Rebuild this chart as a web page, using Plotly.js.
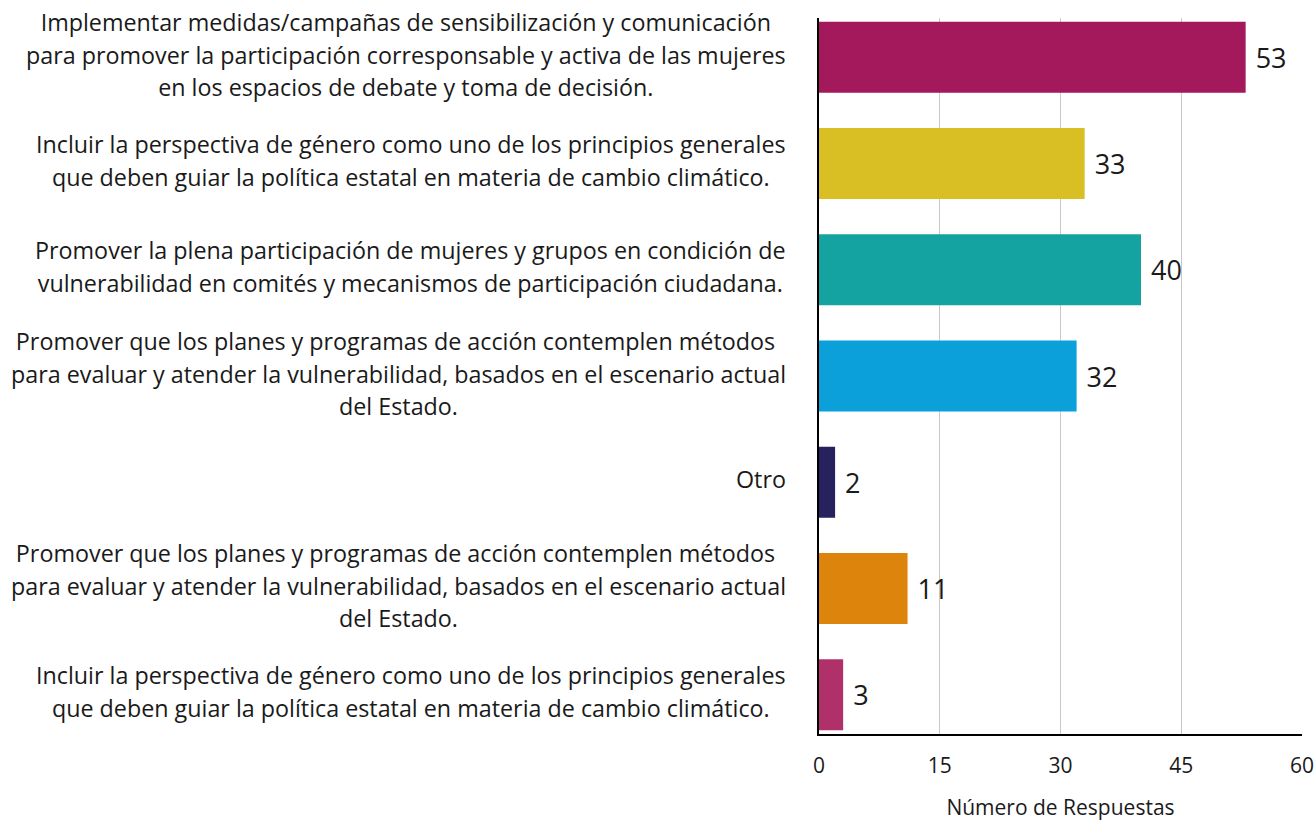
<!DOCTYPE html>
<html>
<head>
<meta charset="utf-8">
<script src="https://cdn.plot.ly/plotly-3.0.1.min.js"></script>
<style>html,body{margin:0;padding:0;background:#fff;}#chart{width:1315px;height:823px;}</style>
</head>
<body>
<div id="chart"></div>
<script>
const categories = [
  "Implementar medidas/campañas de sensibilización y comunicación\npara promover la participación corresponsable y activa de las mujeres\nen los espacios de debate y toma de decisión.",
  "Incluir la perspectiva de género como uno de los principios generales\nque deben guiar la política estatal en materia de cambio climático.",
  "Promover la plena participación de mujeres y grupos en condición de\nvulnerabilidad en comités y mecanismos de participación ciudadana.",
  "Promover que los planes y programas de acción contemplen métodos \npara evaluar y atender la vulnerabilidad, basados en el escenario actual\ndel Estado.",
  "Otro",
  "Promover que los planes y programas de acción contemplen métodos \npara evaluar y atender la vulnerabilidad, basados en el escenario actual\ndel Estado.",
  "Incluir la perspectiva de género como uno de los principios generales\nque deben guiar la política estatal en materia de cambio climático."
];
const values = [53, 33, 40, 32, 2, 11, 3];
const colors = ["#A3195B", "#D9BE24", "#14A3A0", "#0BA0DA", "#27215E", "#DD840C", "#B0306A"];
const xTicks = [0, 15, 30, 45, 60];
const xTitle = "Número de Respuestas";

const FONT = "'Open Sans', 'Noto Sans', sans-serif";
const pos = categories.map((c, i) => i);

const trace = {
  type: "bar",
  orientation: "h",
  y: pos,
  x: values,
  width: 0.668,
  marker: { color: colors, line: { width: 0 } },
  text: values.map(v => "\u00A0" + v),
  textposition: "outside",
  cliponaxis: false,
  textfont: { family: FONT, size: 27, color: "#1a1a1a" },
  hoverinfo: "none"
};

const annotations = categories.map((c, i) => ({
  xref: "paper", yref: "y",
  x: -0.064, y: i,
  xanchor: "right", yanchor: "middle",
  yshift: 3,
  align: "center",
  showarrow: false,
  text: c.split("\n").map(s => '<span style="font-size:23.3px">' + s + '</span>').join("<br>"),
  font: { family: FONT, size: 25, color: "#1a1a1a" }
}));

const layout = {
  width: 1315, height: 823,
  margin: { l: 819, r: 13, t: 18, b: 89 },
  paper_bgcolor: "#fff", plot_bgcolor: "#fff",
  showlegend: false,
  font: { family: FONT, color: "#1a1a1a" },
  xaxis: {
    range: [0, 60],
    tickvals: xTicks,
    ticktext: xTicks.map(String),
    showgrid: true, gridcolor: "#c8c8c8", gridwidth: 1,
    zeroline: false,
    showline: true, linecolor: "#000", linewidth: 2,
    ticks: "outside", ticklen: 12, tickcolor: "rgba(0,0,0,0)",
    tickfont: { family: FONT, size: 21, color: "#1a1a1a" },
    title: { text: xTitle, font: { family: FONT, size: 21, color: "#1a1a1a" }, standoff: 22 }
  },
  yaxis: {
    range: [6.37, -0.37],
    showticklabels: false,
    showgrid: false, zeroline: false,
    showline: true, linecolor: "#000", linewidth: 2,
    ticks: ""
  },
  annotations: annotations
};

Plotly.newPlot("chart", [trace], layout, { displayModeBar: false, staticPlot: true });
</script>
</body>
</html>
